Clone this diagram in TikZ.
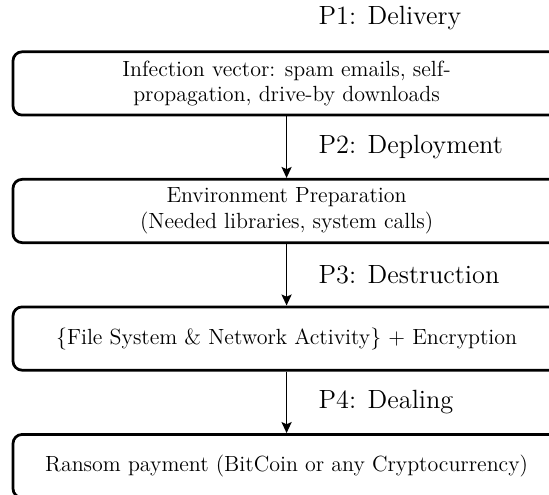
\documentclass[tikz,border=0pt]{standalone}
\usetikzlibrary{arrows.meta,positioning,calc}
\tikzset{
  stage/.style={draw, line width=1.5pt, rounded corners=5pt, minimum width=299pt, minimum height=34.6pt, align=center, font=\large},
  phase/.style={anchor=west, font=\Large},
  flow/.style={-{Stealth[length=6pt,width=5.5pt,inset=1.2pt]}, line width=1pt}
}
\begin{document}
\begin{tikzpicture}[node distance=33.6pt]
\path[use as bounding box, clip] (0,0) rectangle (300pt,-270pt);
% stages of the attack
\node[stage] (deliv) at (156.6pt,-45.6pt) {Infection vector: spam emails, self-\\propagation, drive-by downloads};
\node[stage, below=of deliv] (deploy) {Environment Preparation\\(Needed libraries, system calls)};
\node[stage, below=of deploy] (destr) {\{File System \& Network Activity\} $+$ Encryption};
\node[stage, below=of destr] (deal) {Ransom payment (BitCoin or any Cryptocurrency)};
% phase labels
\node[phase] (p1) at ($(deliv.north)+(14pt,17.7pt)$) {P1: Delivery};
\node[phase] (p2) at ($(deliv.south)!0.5!(deploy.north)+(14pt,0)$) {P2: Deployment};
\node[phase] (p3) at ($(deploy.south)!0.5!(destr.north)+(14pt,0)$) {P3: Destruction};
\node[phase] (p4) at ($(destr.south)!0.5!(deal.north)+(14pt,0)$) {P4: Dealing};
\draw[flow] (deliv) -- (deploy);
\draw[flow] (deploy) -- (destr);
\draw[flow] (destr) -- (deal);
\end{tikzpicture}
\end{document}
